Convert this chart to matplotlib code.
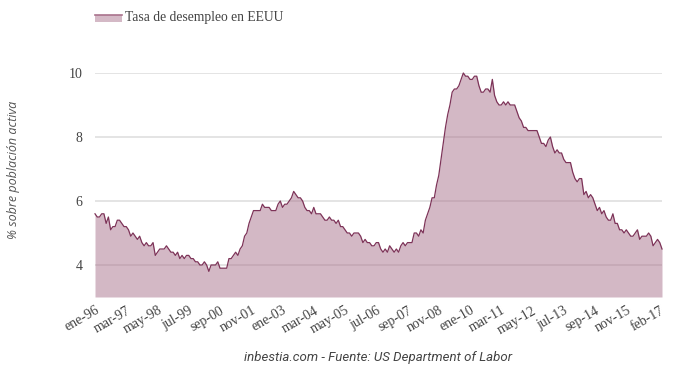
import numpy as np
import matplotlib
matplotlib.use("Agg")
import matplotlib.pyplot as plt
from matplotlib.patches import Rectangle

# tasa de desempleo EEUU, mensual, ene-1996 .. mar-2017
years = list(range(1996, 2018))
rates = {
    1996: [5.6, 5.5, 5.5, 5.6, 5.6, 5.3, 5.5, 5.1, 5.2, 5.2, 5.4, 5.4],
    1997: [5.3, 5.2, 5.2, 5.1, 4.9, 5.0, 4.9, 4.8, 4.9, 4.7, 4.6, 4.7],
    1998: [4.6, 4.6, 4.7, 4.3, 4.4, 4.5, 4.5, 4.5, 4.6, 4.5, 4.4, 4.4],
    1999: [4.3, 4.4, 4.2, 4.3, 4.2, 4.3, 4.3, 4.2, 4.2, 4.1, 4.1, 4.0],
    2000: [4.0, 4.1, 4.0, 3.8, 4.0, 4.0, 4.0, 4.1, 3.9, 3.9, 3.9, 3.9],
    2001: [4.2, 4.2, 4.3, 4.4, 4.3, 4.5, 4.6, 4.9, 5.0, 5.3, 5.5, 5.7],
    2002: [5.7, 5.7, 5.7, 5.9, 5.8, 5.8, 5.8, 5.7, 5.7, 5.7, 5.9, 6.0],
    2003: [5.8, 5.9, 5.9, 6.0, 6.1, 6.3, 6.2, 6.1, 6.1, 6.0, 5.8, 5.7],
    2004: [5.7, 5.6, 5.8, 5.6, 5.6, 5.6, 5.5, 5.4, 5.4, 5.5, 5.4, 5.4],
    2005: [5.3, 5.4, 5.2, 5.2, 5.1, 5.0, 5.0, 4.9, 5.0, 5.0, 5.0, 4.9],
    2006: [4.7, 4.8, 4.7, 4.7, 4.6, 4.6, 4.7, 4.7, 4.5, 4.4, 4.5, 4.4],
    2007: [4.6, 4.5, 4.4, 4.5, 4.4, 4.6, 4.7, 4.6, 4.7, 4.7, 4.7, 5.0],
    2008: [5.0, 4.9, 5.1, 5.0, 5.4, 5.6, 5.8, 6.1, 6.1, 6.5, 6.8, 7.3],
    2009: [7.8, 8.3, 8.7, 9.0, 9.4, 9.5, 9.5, 9.6, 9.8, 10.0, 9.9, 9.9],
    2010: [9.8, 9.8, 9.9, 9.9, 9.6, 9.4, 9.4, 9.5, 9.5, 9.4, 9.8, 9.3],
    2011: [9.1, 9.0, 9.0, 9.1, 9.0, 9.1, 9.0, 9.0, 9.0, 8.8, 8.6, 8.5],
    2012: [8.3, 8.3, 8.2, 8.2, 8.2, 8.2, 8.2, 8.0, 7.8, 7.8, 7.7, 7.9],
    2013: [8.0, 7.7, 7.5, 7.6, 7.5, 7.5, 7.3, 7.2, 7.2, 7.2, 6.9, 6.7],
    2014: [6.6, 6.7, 6.7, 6.2, 6.3, 6.1, 6.2, 6.1, 5.9, 5.7, 5.8, 5.6],
    2015: [5.7, 5.5, 5.4, 5.4, 5.6, 5.3, 5.3, 5.1, 5.1, 5.0, 5.1, 5.0],
    2016: [4.9, 4.9, 5.0, 5.1, 4.8, 4.9, 4.9, 4.9, 5.0, 4.9, 4.6, 4.7],
    2017: [4.8, 4.7, 4.5],
}
meses = ["ene", "feb", "mar", "abr", "may", "jun", "jul", "ago", "sep", "oct", "nov", "dic"]

values = []
labels = []
for y in years:
    for i, v in enumerate(rates[y]):
        values.append(v)
        labels.append(f"{meses[i]}-{str(y)[2:]}")
values = np.array(values)
x = np.arange(len(values))

line_col = "#7d3358"
fill_col = "#a9728c"
serif = ["Liberation Serif", "DejaVu Serif"]

fig = plt.figure(figsize=(6.8, 3.71), dpi=100)
ax = fig.add_axes([95 / 680, 1 - 297 / 371, 567 / 680, (297 - 73) / 371])

for g in [4, 6, 8, 10]:
    ax.axhline(g, color="#dcdcdc", lw=1.1, zorder=1)

ax.fill_between(x, 3, values, color=fill_col, alpha=0.5, lw=0, zorder=2)
ax.plot(x, values, color=line_col, lw=0.9, zorder=3, clip_on=False)

ax.set_xlim(0, len(values) - 1)
ax.set_ylim(3, 10)
ax.set_yticks([4, 6, 8, 10])
ax.set_yticklabels(["4", "6", "8", "10"], family=serif, fontsize=10, color="#444444")

tick_idx = list(range(0, len(values) - 3, 14)) + [len(values) - 2]
ax.set_xticks(tick_idx)
ax.set_xticklabels([labels[i] for i in tick_idx], family=serif,
                   fontsize=10, color="#444444", rotation=30, ha="right",
                   rotation_mode="anchor")
ax.tick_params(length=0, pad=5)
ax.tick_params(axis="y", pad=9)
for s in ax.spines.values():
    s.set_visible(False)

fig.text(14 / 680, 1 - 170 / 371, "% sobre población activa", rotation=90,
         ha="center", va="center", style="italic", fontsize=9, color="#555555",
         family=["Open Sans", "DejaVu Sans"])

fig.text(378 / 680, 1 - 357 / 371, "inbestia.com - Fuente: US Department of Labor",
         ha="center", va="center", style="italic", fontsize=9.5, color="#444444",
         family=["Roboto", "DejaVu Sans"])

# leyenda
fig.patches.append(Rectangle((95 / 680, 1 - 22 / 371), 27 / 680, 7 / 371,
                             transform=fig.transFigure, facecolor="#d4b9c6",
                             edgecolor="none"))
fig.add_artist(plt.Line2D([95 / 680, 122 / 680], [1 - 15 / 371, 1 - 15 / 371],
                          transform=fig.transFigure, color="#a9728c", lw=1.2))
fig.text(125 / 680, 1 - 17 / 371, "Tasa de desempleo en EEUU", ha="left", va="center",
         fontsize=9.8, color="#444444", family=serif)

fig.savefig("out.png", dpi=100, facecolor="white")
